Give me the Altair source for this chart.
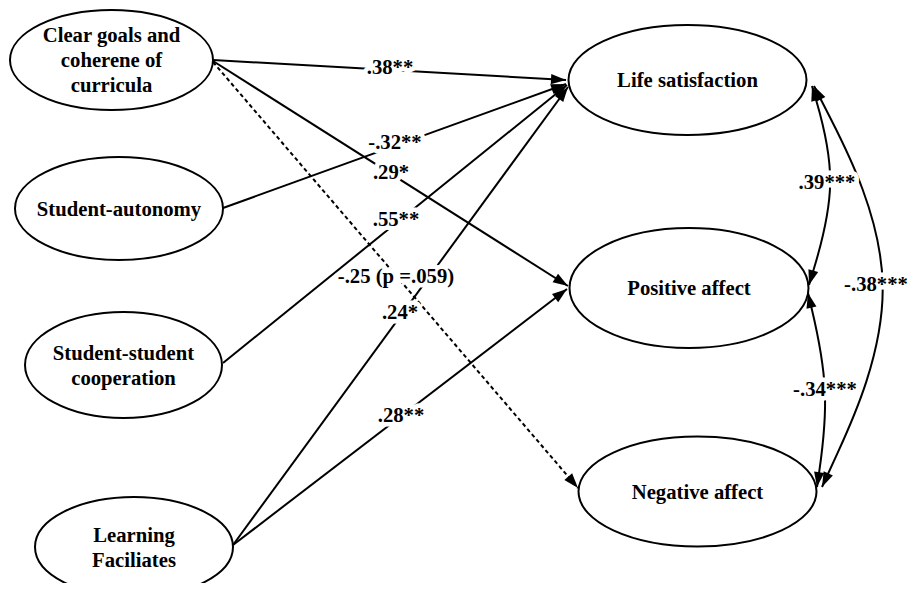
import math
import altair as alt
import pandas as pd

# ---------------- data ----------------
# Nodes of the path diagram (centre and half-axes, in picture pixels)
NODE_TEXT = ["Clear goals and\ncoherene of\ncurricula", "Student-autonomy",
             "Student-student\ncooperation", "Learning\nFaciliates",
             "Life satisfaction", "Positive affect", "Negative affect"]
NODE_X = [111.5, 119, 123.5, 134, 687.5, 689, 697.5]
NODE_Y = [60, 208.5, 365, 547, 80, 288, 491.5]
NODE_RX = [101.5, 104, 98.5, 99, 119, 119.5, 119]
NODE_RY = [50, 51.5, 53, 50, 55, 60, 55]

# Directed paths (start point -> arrow tip), with coefficient labels
EDGE_FROM_X = [213, 223, 213, 223, 213, 233, 233]
EDGE_FROM_Y = [60, 208, 61, 363, 62, 545, 545]
EDGE_TO_X = [566, 566, 568, 567, 578, 568, 567]
EDGE_TO_Y = [80, 84, 286, 85, 488, 87, 289]
EDGE_LABEL = [".38**", "-.32**", ".29*", ".55**", "-.25 (p =.059)", ".24*", ".28**"]
EDGE_LABEL_X = [390, 395, 391, 396, 396, 400, 401]
EDGE_LABEL_Y = [68, 143, 173, 220, 277, 313, 416]
EDGE_DOTTED = [False, False, False, False, True, False, False]

# Correlations (curved double-headed arrows): start, control, end
ARC_LABEL = [".39***", "-.34***", "-.38***"]
ARC_START_X = [812, 808, 814]
ARC_START_Y = [86, 293, 86]
ARC_CTRL_X = [840, 831, 915]
ARC_CTRL_Y = [182, 390, 284]
ARC_END_X = [809, 817, 822]
ARC_END_Y = [285, 487, 487]
ARC_LABEL_X = [827, 825, 876]
ARC_LABEL_Y = [183, 390, 285]

# ---------------- tables ----------------
K = 0.5523
LINE_H = 25


def ellipse_path(r):
    kr = K * r
    return (f"M-1,0C-1,{-kr} {-K},{-r} 0,{-r}C{K},{-r} 1,{-kr} 1,0"
            f"C1,{kr} {K},{r} 0,{r}C{-K},{r} -1,{kr} -1,0Z")


nodes = pd.DataFrame({
    "text": NODE_TEXT, "x": NODE_X, "y": NODE_Y,
    "rx": NODE_RX, "ry": NODE_RY,
})
nodes["shape"] = [ellipse_path(ry / rx) for rx, ry in zip(NODE_RX, NODE_RY)]
nodes["size"] = [4 * rx * rx for rx in NODE_RX]
# first line of a multi-line label sits above the centre so the block is centred
nodes["ty"] = [y + 1 - (t.count("\n")) * LINE_H / 2 for t, y in zip(NODE_TEXT, NODE_Y)]

edge_rows = []
for i in range(len(EDGE_LABEL)):
    edge_rows.append({"id": i, "ord": 0, "x": EDGE_FROM_X[i], "y": EDGE_FROM_Y[i],
                      "dotted": EDGE_DOTTED[i]})
    edge_rows.append({"id": i, "ord": 1, "x": EDGE_TO_X[i], "y": EDGE_TO_Y[i],
                      "dotted": EDGE_DOTTED[i]})
edges = pd.DataFrame(edge_rows)

arc_rows = []
for i in range(len(ARC_LABEL)):
    for o, (ax, ay) in enumerate([(ARC_START_X[i], ARC_START_Y[i]),
                                  (ARC_CTRL_X[i], ARC_CTRL_Y[i]),
                                  (ARC_END_X[i], ARC_END_Y[i])]):
        arc_rows.append({"id": i, "ord": o, "x": ax, "y": ay})
arcs = pd.DataFrame(arc_rows)


def heading(fx, fy, tx, ty):
    return (math.degrees(math.atan2(tx - fx, -(ty - fy))) + 360) % 360


head_rows = []
for i in range(len(EDGE_LABEL)):
    head_rows.append({"x": EDGE_TO_X[i], "y": EDGE_TO_Y[i],
                      "angle": heading(EDGE_FROM_X[i], EDGE_FROM_Y[i], EDGE_TO_X[i], EDGE_TO_Y[i])})
for i in range(len(ARC_LABEL)):
    head_rows.append({"x": ARC_START_X[i], "y": ARC_START_Y[i],
                      "angle": heading(ARC_CTRL_X[i], ARC_CTRL_Y[i], ARC_START_X[i], ARC_START_Y[i])})
    head_rows.append({"x": ARC_END_X[i], "y": ARC_END_Y[i],
                      "angle": heading(ARC_CTRL_X[i], ARC_CTRL_Y[i], ARC_END_X[i], ARC_END_Y[i])})
heads = pd.DataFrame(head_rows)

labels = pd.DataFrame({
    "text": EDGE_LABEL + ARC_LABEL,
    "x": EDGE_LABEL_X + ARC_LABEL_X,
    "y": EDGE_LABEL_Y + ARC_LABEL_Y,
})

# ---------------- chart ----------------
W, H = 899, 575
XS = alt.Scale(domain=[8, 8 + W], nice=False, zero=False)
YS = alt.Scale(domain=[8, 8 + H], nice=False, zero=False, reverse=True)
X = alt.X("x:Q", scale=XS, axis=None)
Y = alt.Y("y:Q", scale=YS, axis=None)
FONT = "Liberation Serif"
FS = 20.7

ellipses = alt.Chart(nodes).mark_point(
    filled=True, fill="white", stroke="black", strokeWidth=2, opacity=1
).encode(
    x=X, y=Y,
    shape=alt.Shape("shape:N", scale=None),
    size=alt.Size("size:Q", scale=None),
)

solid = alt.Chart(edges).transform_filter("!datum.dotted").mark_line(
    color="black", strokeWidth=2
).encode(x=X, y=Y, detail="id:N", order="ord:Q")

dotted = alt.Chart(edges).transform_filter("datum.dotted").mark_line(
    color="black", strokeWidth=2, strokeDash=[4, 3]
).encode(x=X, y=Y, detail="id:N", order="ord:Q")

curves = alt.Chart(arcs).mark_line(
    color="black", strokeWidth=2, interpolate="basis"
).encode(x=X, y=Y, detail="id:N", order="ord:Q")

arrowheads = alt.Chart(heads).mark_point(
    shape="M0,0L0.34,1L-0.34,1Z", filled=True, color="black", opacity=1, size=900
).encode(x=X, y=Y, angle=alt.Angle("angle:Q", scale=None))

node_text = alt.Chart(nodes).mark_text(
    font=FONT, fontSize=FS, fontWeight="bold", color="black",
    lineBreak="\n", lineHeight=LINE_H, align="center", baseline="middle"
).encode(x=X, y=alt.Y("ty:Q", scale=YS, axis=None), text="text:N")

halo = alt.Chart(labels).mark_text(
    font=FONT, fontSize=FS, fontWeight="bold",
    align="center", baseline="middle", strokeJoin="round"
).encode(
    x=X, y=Y, text="text:N",
    fill=alt.value("white"),
    stroke=alt.value("white"),
    strokeWidth=alt.value(9),
)

label_text = alt.Chart(labels).mark_text(
    font=FONT, fontSize=FS, fontWeight="bold", color="black",
    align="center", baseline="middle"
).encode(x=X, y=Y, text="text:N")

chart = alt.layer(
    ellipses, solid, dotted, curves, arrowheads, node_text, halo, label_text
).properties(
    width=W, height=H, padding=0,
    autosize=alt.AutoSizeParams(type="none"),
    background="white",
).configure_view(stroke=None)

chart.save("out.html", embed_options={"renderer": "svg", "actions": False})
